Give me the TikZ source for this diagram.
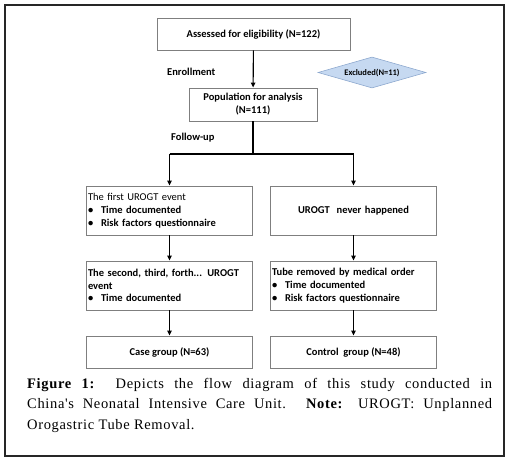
\documentclass[tikz,border=0pt]{standalone}
\usepackage{fontspec}
\setmainfont{Liberation Serif}
\newfontfamily\boxfont{Carlito}
\newfontfamily\capfont[LetterSpace=4.5]{Liberation Serif}
\usetikzlibrary{shapes.geometric,arrows.meta}
\definecolor{boxgray}{HTML}{7F7F7F}
\definecolor{dfill}{HTML}{C6D9F1}
\definecolor{dline}{HTML}{8EA9CF}
\begin{document}
\begin{tikzpicture}[x=1pt,y=-1pt,
  every node/.style={font=\boxfont\fontsize{10.5}{12.8}\selectfont\bfseries},
  fbox/.style={draw=boxgray,line width=0.9pt,inner sep=1.5pt,minimum height=#1},
  fbox/.default=33pt,
  rowbox/.style={draw=boxgray,line width=0.9pt,inner xsep=1.5pt,inner ysep=0pt,text width=163pt,minimum width=166pt,minimum height=49pt,align=left},
  endbox/.style={draw=boxgray,line width=0.9pt,minimum width=166pt,minimum height=32pt,align=center},
  arr/.style={-{Triangle[length=5pt,width=4.5pt]},line width=1.1pt},
  conn/.style={line width=1.1pt},
  lbl/.style={anchor=west,inner sep=0pt}]
\useasboundingbox (0,0) rectangle (510,462);
\draw[line width=1.3pt,draw=black!85] (5,5) rectangle (504,456);
\newcommand{\bul}{\makebox[13pt][l]{\textbullet}}
% nodes
\node[fbox=32pt,minimum width=193pt] (top) at (253.5,34) {Assessed for eligibility (N=122)};
\node[fbox=33pt,minimum width=128pt,align=center] (pop) at (253,104.5) {Population for analysis\\(N=111)};
\node[diamond,draw=dline,fill=dfill,line width=0.6pt,minimum width=108pt,minimum height=31pt,aspect=3.5,inner sep=0pt,font=\boxfont\fontsize{8.5}{10}\selectfont\bfseries] (excl) at (372,72.5) {Excluded(N=11)};
\node[lbl] (enr) at (167,72) {Enrollment};
\node[lbl] (fol) at (171,138) {Follow-up};
\node[rowbox] (a1) at (169.5,210.5) {{\mdseries The first UROGT event}\\\bul Time documented\\\bul Risk factors questionnaire};
\node[rowbox,align=center] (b1) at (353.5,210.5) {UROGT\ \ never happened};
\node[rowbox] (a2) at (169.5,285.5) {The second, third, forth... UROGT event\\\bul Time documented};
\node[rowbox] (b2) at (353.5,285.5) {Tube removed by medical order\\\bul Time documented\\\bul Risk factors questionnaire};
\node[endbox] (a3) at (169.5,352) {Case group (N=63)};
\node[endbox] (b3) at (353.5,352) {Control\ \ group (N=48)};
\coordinate (sL) at (169.5,154);
\coordinate (sR) at (353.5,154);
% connectors
\draw[arr] (top) -- (pop);
\draw[conn] (pop.south) -- (pop.south |- sL);
\draw[conn] (sL) -- (sR);
\draw[arr] (sL) -- (a1);
\draw[arr] (sR) -- (b1);
\draw[arr] (a1) -- (a2);
\draw[arr] (b1) -- (b2);
\draw[arr] (a2) -- (a3);
\draw[arr] (b2) -- (b3);
% caption
\node[anchor=north west,inner sep=0pt,text width=465pt,align=justify,font=\capfont\fontsize{14.5}{20.5}\selectfont] (cap) at (27,378)
{\textbf{Figure 1:}\ \ Depicts the flow diagram of this study conducted in\linebreak China's Neonatal Intensive Care Unit. \textbf{Note:} UROGT: Unplanned\linebreak Orogastric Tube Removal.};
\end{tikzpicture}
\end{document}
